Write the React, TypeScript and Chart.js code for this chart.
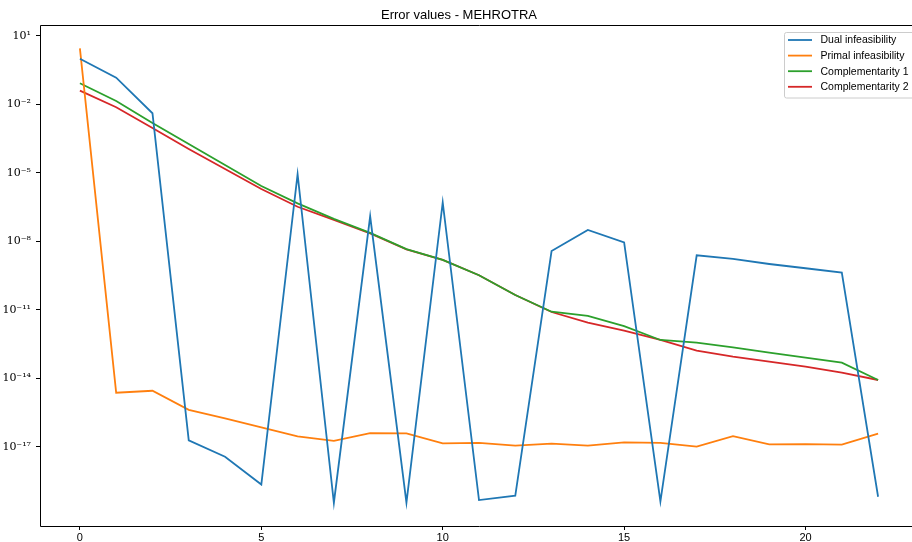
import React, { useEffect, useRef } from "react";
import { Chart, registerables } from "chart.js";

Chart.register(...registerables);

const iterations = [0, 1, 2, 3, 4, 5, 6, 7, 8, 9, 10, 11, 12, 13, 14, 15, 16, 17, 18, 19, 20, 21, 22];

const dualInfeasibility = [0.98, 0.144, 4.0e-3, 1.9e-17, 3.6e-18, 2.2e-19, 8.5e-6, 3.5e-20, 1.23e-7, 3.5e-20, 5.0e-7, 4.6e-20, 7.1e-20, 3.7e-9, 3.1e-8, 8.9e-9, 4.0e-20, 2.4e-9, 1.66e-9, 1.0e-9, 6.5e-10, 4.2e-10, 6.4e-20];
const primalInfeasibility = [2.8, 2.3e-15, 2.8e-15, 4.1e-16, 1.75e-16, 7.0e-17, 2.8e-17, 1.8e-17, 3.9e-17, 3.8e-17, 1.4e-17, 1.45e-17, 1.1e-17, 1.35e-17, 1.1e-17, 1.55e-17, 1.45e-17, 1.0e-17, 2.9e-17, 1.27e-17, 1.3e-17, 1.22e-17, 3.7e-17];
const complementarity1 = [0.082, 0.0138, 1.5e-3, 1.8e-4, 2.17e-5, 2.6e-6, 4.5e-7, 9.4e-8, 2.3e-8, 4.5e-9, 1.5e-9, 3.2e-10, 4.4e-11, 8.1e-12, 5.3e-12, 1.9e-12, 4.7e-13, 3.6e-13, 2.25e-13, 1.3e-13, 7.9e-14, 4.75e-14, 8.3e-15];
const complementarity2 = [0.039, 7.3e-3, 9.0e-4, 1.09e-4, 1.45e-5, 1.93e-6, 3.2e-7, 8.5e-8, 2.2e-8, 4.4e-9, 1.5e-9, 3.2e-10, 4.4e-11, 7.9e-12, 2.7e-12, 1.2e-12, 4.7e-13, 1.6e-13, 8.7e-14, 5.3e-14, 3.2e-14, 1.74e-14, 8.3e-15];

const seriesLabels = ["Dual infeasibility", "Primal infeasibility", "Complementarity 1", "Complementarity 2"];
const seriesColors = ["#1f77b4", "#ff7f0e", "#2ca02c", "#d62728"];

const xTickValues = [0, 5, 10, 15, 20];
const yTickExponents = [1, -2, -5, -8, -11, -14, -17];

const titleText = "Error values - MEHROTRA";

const SUP: Record<string, string> = {
  "-": "\u207B", "0": "\u2070", "1": "\u00B9", "2": "\u00B2", "3": "\u00B3", "4": "\u2074",
  "5": "\u2075", "6": "\u2076", "7": "\u2077", "8": "\u2078", "9": "\u2079",
};
const supLabel = (e: number) => "10" + String(e).split("").map((c) => SUP[c] || c).join("");

const framePlugin = {
  id: "frame",
  afterDatasetsDraw(chart: any) {
    const { ctx, chartArea } = chart;
    const l = Math.round(chartArea.left) + 0.5;
    const t = Math.round(chartArea.top) + 0.5;
    const b = Math.round(chartArea.bottom) + 0.5;
    const r = Math.round(chartArea.right) + 0.5;
    ctx.save();
    ctx.strokeStyle = "#000";
    ctx.lineWidth = 1;
    ctx.beginPath();
    ctx.moveTo(r, t);
    ctx.lineTo(l, t);
    ctx.lineTo(l, b);
    ctx.lineTo(r, b);
    ctx.stroke();
    ctx.restore();
  },
};

const legendPlugin = {
  id: "mplLegend",
  afterDraw(chart: any) {
    const { ctx } = chart;
    const ds = chart.data.datasets;
    const boxX = 784.5;
    const boxY = 32.5;
    const boxW = 160;
    const boxH = 65.5;
    ctx.save();
    ctx.globalAlpha = 0.8;
    ctx.fillStyle = "#ffffff";
    ctx.beginPath();
    (ctx as any).roundRect(boxX, boxY, boxW, boxH, 2);
    ctx.fill();
    ctx.globalAlpha = 1;
    ctx.strokeStyle = "#cccccc";
    ctx.lineWidth = 1;
    ctx.stroke();
    ctx.font = "10.5px 'Liberation Sans', Arial, sans-serif";
    ctx.textBaseline = "middle";
    ctx.textAlign = "left";
    ds.forEach((d: any, i: number) => {
      const y = 40 + i * 15.6;
      ctx.strokeStyle = d.borderColor;
      ctx.lineWidth = 1.8;
      ctx.beginPath();
      ctx.moveTo(788, y);
      ctx.lineTo(812, y);
      ctx.stroke();
      ctx.fillStyle = "#000";
      ctx.fillText(d.label, 820.5, y + 0.5);
    });
    ctx.restore();
  },
};

export default function App() {
  const canvasRef = useRef<HTMLCanvasElement | null>(null);

  useEffect(() => {
    if (!canvasRef.current) return;
    const seriesValues = [dualInfeasibility, primalInfeasibility, complementarity1, complementarity2];
    const chart = new Chart(canvasRef.current, {
      type: "line",
      data: {
        datasets: seriesValues.map((vals, k) => ({
          label: seriesLabels[k],
          data: vals.map((v, i) => ({ x: iterations[i], y: v })),
          borderColor: seriesColors[k],
          backgroundColor: seriesColors[k],
          borderWidth: 1.8,
          pointRadius: 0,
          tension: 0,
          fill: false,
        })),
      },
      options: {
        animation: false,
        responsive: false,
        devicePixelRatio: 1,
        layout: { padding: { left: 0, right: 12, top: 0, bottom: 0 } },
        plugins: {
          legend: { display: false },
          tooltip: { enabled: false },
          title: {
            display: true,
            text: titleText,
            color: "#000",
            font: { family: "'Liberation Sans', Arial, sans-serif", size: 13, weight: "normal" },
            padding: { top: 8, bottom: 1.4 },
          },
        },
        scales: {
          x: {
            type: "linear",
            min: -1.1,
            max: 23.1,
            border: { display: false },
            grid: { drawOnChartArea: false, drawTicks: true, tickLength: 4, color: "#000" },
            ticks: {
              color: "#000",
              padding: 1,
              font: { family: "'Liberation Sans', Arial, sans-serif", size: 11 },
              maxRotation: 0,
              callback: (v: any) => String(v),
            },
            afterBuildTicks: (scale: any) => {
              scale.ticks = xTickValues.map((v) => ({ value: v }));
            },
            afterFit: (scale: any) => {
              scale.height = 16;
            },
          },
          y: {
            type: "logarithmic",
            min: 3.35e-21,
            max: 29.3,
            bounds: "data",
            border: { display: false },
            grid: { drawOnChartArea: false, drawTicks: true, tickLength: 4, color: "#000" },
            ticks: {
              color: "#000",
              padding: 5,
              font: { family: "'DejaVu Serif', serif", size: 11 },
              callback: (v: any) => supLabel(Math.round(Math.log10(Number(v)))),
            },
            afterBuildTicks: (scale: any) => {
              scale.ticks = yTickExponents.map((e) => ({ value: Math.pow(10, e) }));
            },
            afterFit: (scale: any) => {
              scale.width = 40;
            },
          },
        },
      },
      plugins: [framePlugin, legendPlugin],
    } as any);
    return () => chart.destroy();
  }, []);

  return (
    <div style={{ position: "fixed", left: 0, top: 0, width: 912, height: 542, overflow: "hidden", background: "#fff" }}>
      <canvas ref={canvasRef} width={930} height={542} style={{ width: 930, height: 542, display: "block" }} />
    </div>
  );
}
